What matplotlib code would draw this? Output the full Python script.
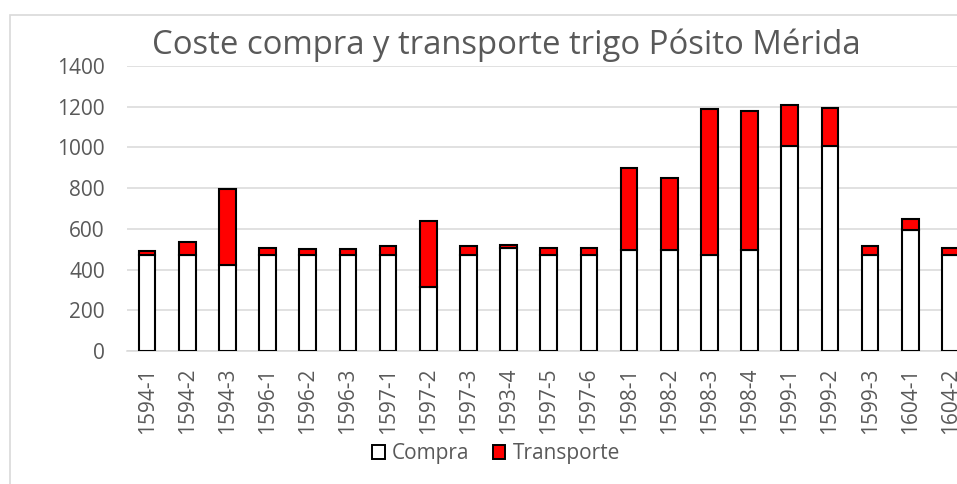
import numpy as np
import matplotlib.pyplot as plt
from matplotlib.patches import Rectangle, Patch

periodos = ['1594-1', '1594-2', '1594-3', '1596-1', '1596-2', '1596-3', '1597-1',
            '1597-2', '1597-3', '1593-4', '1597-5', '1597-6', '1598-1', '1598-2',
            '1598-3', '1598-4', '1599-1', '1599-2', '1599-3', '1604-1', '1604-2']
compra = [473, 473, 423, 473, 473, 473, 473, 315, 473, 506, 471, 471, 497, 497,
          473, 497, 1006, 1006, 471, 595, 471]
transporte = [20, 63, 371, 35, 30, 27, 41, 325, 41, 15, 33, 33, 401, 352,
              714, 682, 202, 189, 44, 52, 33]
yticks = [0, 200, 400, 600, 800, 1000, 1200, 1400]

gris = '#595959'
plt.rcParams['font.family'] = ['Open Sans', 'DejaVu Sans']

W, H = 957, 484
fig = plt.figure(figsize=(W / 100, H / 100), dpi=100)

# marco del grafico (se sale por la derecha y por abajo)
fig.patches.append(Rectangle((10 / W, -0.1), 1.2, 1.1 - 15 / H, transform=fig.transFigure,
                             facecolor='none', edgecolor='#D9D9D9', lw=1.2))

# el area de trazado sobrepasa el borde derecho de la imagen
ax = fig.add_axes([127 / W, 133 / H, 843.5 / W, 285 / H])

x = np.arange(len(periodos))
ax.bar(x, compra, width=0.415, color='white', edgecolor='black', lw=1.5, zorder=3)
ax.bar(x, transporte, width=0.415, bottom=compra, color='#FF0000', edgecolor='black',
       lw=1.5, zorder=3)

ax.set_xlim(-0.5, len(periodos) - 0.5)
ax.set_ylim(0, 1400)
ax.set_yticks(yticks)
ax.set_xticks(x)
ax.set_xticklabels(periodos, rotation=90)
ax.grid(axis='y', color='#D9D9D9', lw=1.1, zorder=0)
for s in ['top', 'right', 'left']:
    ax.spines[s].set_visible(False)
ax.spines['bottom'].set_color('#D9D9D9')
ax.spines['bottom'].set_linewidth(1.1)
ax.tick_params(axis='both', length=0, colors=gris, labelsize=15)
ax.tick_params(axis='y', pad=16)
ax.tick_params(axis='x', pad=12)

fig.text(506 / W, 1 - 54 / H, 'Coste compra y transporte trigo Pósito Mérida',
         ha='center', va='baseline', fontsize=23.7, color=gris)

handles = [Patch(facecolor='white', edgecolor='black', lw=1.4, label='Compra'),
           Patch(facecolor='#FF0000', edgecolor='black', lw=1.4, label='Transporte')]
leg = fig.legend(handles=handles, loc='center', bbox_to_anchor=(496 / W, 30 / H), ncol=2,
                 frameon=False, fontsize=15, handlelength=0.62, handleheight=0.62,
                 handletextpad=0.35, columnspacing=1.1, labelcolor=gris)

fig.savefig('out.png', dpi=100)
